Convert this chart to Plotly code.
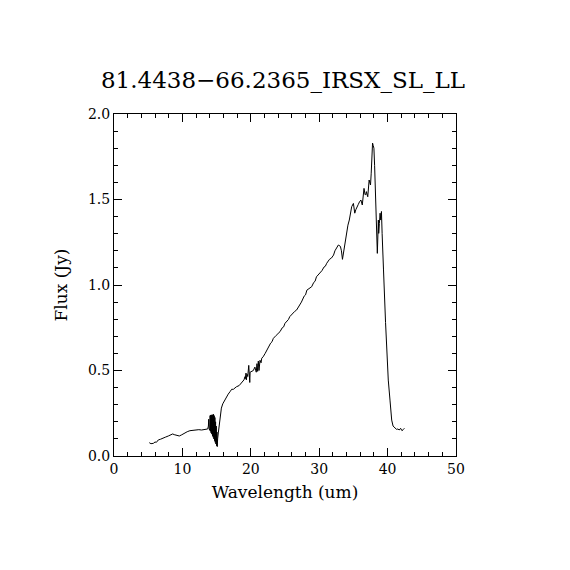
import plotly.graph_objects as go

TITLE = "81.4438\u221266.2365_IRSX_SL_LL"

# short-wavelength part (SL)
wave_sl = [5.16, 5.4, 5.75, 6.0, 6.2, 6.48, 6.8, 7.2, 7.5, 7.94, 8.3, 8.58, 8.8, 9.06, 9.3, 9.55,
           9.9, 10.38, 10.7, 11.1, 11.5, 11.84, 12.09, 12.4, 12.8, 13.1, 13.45, 13.7]
flux_sl = [0.078, 0.072, 0.074, 0.082, 0.080, 0.094, 0.098, 0.107, 0.110, 0.117, 0.124, 0.129, 0.125,
           0.121, 0.120, 0.117, 0.124, 0.136, 0.142, 0.148, 0.150, 0.155, 0.156, 0.154, 0.152, 0.154,
           0.152, 0.158]

# noisy order overlap near 14-15 um
wave_gap = [13.80, 13.85, 13.90, 13.95, 14.00, 14.05, 14.10, 14.15, 14.20, 14.25, 14.30, 14.35, 14.40,
            14.45, 14.50, 14.55, 14.60, 14.65, 14.70, 14.75, 14.80, 14.85, 14.90, 14.95, 15.00, 15.05,
            15.10, 15.15, 15.25, 15.35]
flux_gap = [0.175, 0.215, 0.160, 0.232, 0.150, 0.236, 0.145, 0.240, 0.135, 0.238, 0.128, 0.242, 0.118,
            0.240, 0.110, 0.244, 0.100, 0.236, 0.090, 0.225, 0.080, 0.200, 0.070, 0.175, 0.060, 0.140,
            0.055, 0.100, 0.135, 0.165]

# long-wavelength part (LL)
wave_ll = [15.5, 15.7, 15.9, 16.2, 16.5, 16.7, 17.0, 17.2, 17.45, 17.9, 18.3, 18.65, 19.0, 19.15,
           19.2, 19.3, 19.35, 19.45, 19.55, 19.7, 19.75, 19.85, 19.9, 20.1, 20.37, 20.6, 20.8, 20.9,
           21.0, 21.1, 21.2, 21.35, 21.5, 21.6, 21.8, 22.1, 22.3, 22.6, 22.9, 23.1, 23.3, 23.7, 24.0,
           24.27, 24.6, 24.8, 25.0, 25.3, 25.5, 25.7, 26.1, 26.4, 26.7, 27.0, 27.2, 27.4, 27.8, 28.0,
           28.2, 28.5, 28.9, 29.2, 29.4, 29.6, 30.0, 30.2, 30.4, 30.7, 30.9, 31.1, 31.5, 31.8, 32.1,
           32.3, 32.5, 32.8, 33.1, 33.25, 33.4, 33.6, 33.8, 34.0, 34.2, 34.4, 34.6, 34.75, 35.0, 35.2,
           35.35, 35.5, 35.7, 35.9, 36.1, 36.3, 36.55, 36.7, 36.8, 36.9, 37.1, 37.3, 37.5, 37.6, 37.7,
           37.8, 37.9, 38.0, 38.1, 38.2, 38.35, 38.5, 38.65, 38.7, 38.8, 38.9, 39.0, 39.1, 39.2, 39.3,
           39.4, 39.7, 40.1, 40.35, 40.6, 40.8, 41.0, 41.3, 41.5, 41.7, 41.9, 42.1, 42.3, 42.45]
flux_ll = [0.22, 0.28, 0.305, 0.328, 0.35, 0.362, 0.378, 0.39, 0.39, 0.405, 0.412, 0.429, 0.445, 0.464,
           0.452, 0.485, 0.445, 0.478, 0.465, 0.53, 0.475, 0.43, 0.49, 0.495, 0.50, 0.52, 0.49, 0.54,
           0.495, 0.555, 0.50, 0.56, 0.545, 0.572, 0.58, 0.60, 0.615, 0.643, 0.66, 0.668, 0.688, 0.705,
           0.715, 0.727, 0.75, 0.755, 0.776, 0.79, 0.798, 0.815, 0.835, 0.845, 0.854, 0.875, 0.882,
           0.90, 0.935, 0.942, 0.97, 0.978, 0.99, 1.015, 1.022, 1.048, 1.065, 1.07, 1.084, 1.105, 1.11,
           1.127, 1.15, 1.158, 1.175, 1.20, 1.215, 1.234, 1.226, 1.20, 1.15, 1.205, 1.26, 1.32, 1.35,
           1.38, 1.43, 1.458, 1.477, 1.42, 1.44, 1.458, 1.47, 1.487, 1.497, 1.468, 1.565, 1.53, 1.526,
           1.546, 1.516, 1.614, 1.585, 1.65, 1.75, 1.83, 1.815, 1.80, 1.70, 1.556, 1.40, 1.185, 1.38,
           1.302, 1.36, 1.42, 1.38, 1.43, 1.30, 1.166, 1.088, 0.78, 0.444, 0.327, 0.21, 0.175, 0.165,
           0.156, 0.158, 0.152, 0.162, 0.148, 0.155, 0.162]

wave = wave_sl + wave_gap + wave_ll
flux = flux_sl + flux_gap + flux_ll

FONT = "DejaVu Serif"

fig = go.Figure(go.Scatter(x=wave, y=flux, mode="lines",
                           line=dict(color="black", width=1), showlegend=False))

axis_style = dict(showgrid=False, zeroline=False, showline=True, linecolor="black", linewidth=1,
                  mirror="allticks", ticks="inside", ticklen=8, tickcolor="black",
                  tickfont=dict(family=FONT, size=14, color="black"))

fig.update_xaxes(range=[0, 50], dtick=10, tick0=0,
                 minor=dict(dtick=2, ticks="inside", ticklen=4, tickcolor="black"),
                 title=dict(text="Wavelength (um)", font=dict(family=FONT, size=17, color="black"),
                            standoff=10),
                 **axis_style)
fig.update_yaxes(range=[0, 2], dtick=0.5, tick0=0, tickformat=".1f",
                 minor=dict(dtick=0.1, ticks="inside", ticklen=4, tickcolor="black"),
                 title=dict(text="Flux (Jy)", font=dict(family=FONT, size=17, color="black"),
                            standoff=15),
                 **axis_style)

fig.update_layout(
    width=570, height=570,
    margin=dict(l=106, r=122, t=106, b=122),
    paper_bgcolor="white", plot_bgcolor="white",
    title=dict(text=TITLE, x=0.4825, xanchor="center", y=0.873, yanchor="middle",
               font=dict(family=FONT, size=23, color="black")),
)

fig.write_html("out.html")
